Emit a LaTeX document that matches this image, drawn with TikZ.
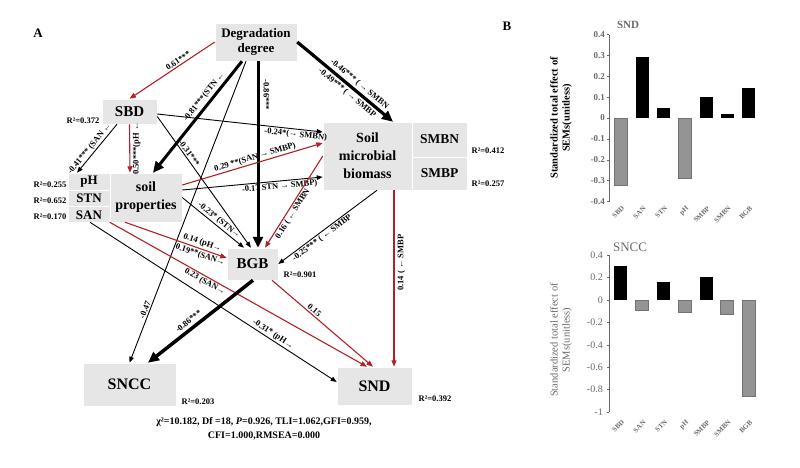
\documentclass[tikz,border=0pt]{standalone}
\usepackage{fontspec}
\setmainfont{Liberation Serif}
\usetikzlibrary{arrows.meta,calc}
\definecolor{sred}{RGB}{178,32,38}
\definecolor{boxgray}{RGB}{230,230,230}
\definecolor{axgray}{RGB}{105,105,105}
\begin{document}
\begin{tikzpicture}[x=1pt,y=-1pt,
  box/.style={fill=boxgray, draw=white, line width=0.5pt, inner sep=0pt, align=center, font=\bfseries\fontsize{13}{15}\selectfont},
  lab/.style={font=\bfseries\fontsize{8.5}{9}\selectfont, inner sep=1.2pt},
  rsq/.style={font=\bfseries\fontsize{8.5}{9}\selectfont, inner sep=0pt},
  arr/.style={draw=black, line width=0.9pt, -{Triangle[length=6pt,width=4.5pt]}},
  redarr/.style={draw=sred, line width=1.1pt, -{Triangle[length=6.5pt,width=5pt]}},
  thickarr/.style={draw=black, line width=3.2pt, -{Triangle[length=11pt,width=10pt]}},
  posbar/.style={fill=black},
  negbar/.style={fill=black!42, draw=black!55, line width=0.3pt},
  tick/.style={anchor=east, text=axgray, inner sep=1pt},
  cat/.style={rotate=45, anchor=east, text=axgray, inner sep=0.5pt, font=\bfseries\fontsize{7}{8}\selectfont},
]
\useasboundingbox (0,0) rectangle (800,467);

% ---------- panel letters
\node[font=\bfseries\fontsize{13}{15}\selectfont] (pa) at (38,33) {A};
\node[font=\bfseries\fontsize{13}{15}\selectfont] (pb) at (507,26) {B};

% ---------- boxes
\node[box, minimum width=82pt, minimum height=38pt] (deg) at (256,42) {Degradation\\degree};
\node[box, minimum width=55pt, minimum height=25pt, font=\bfseries\fontsize{15}{17}\selectfont] (sbd) at (129.5,111.5) {SBD};
\node[box, minimum width=42pt, minimum height=49pt] (phbox) at (89,197.5) {};
\node[font=\bfseries\fontsize{13}{15}\selectfont, inner sep=0pt] (ph) at (89,182) {pH};
\node[font=\bfseries\fontsize{13}{15}\selectfont, inner sep=0pt] (stn) at (89,198.5) {STN};
\node[font=\bfseries\fontsize{13}{15}\selectfont, inner sep=0pt] (san) at (89,215) {SAN};
\draw[white, line width=0.6pt] (68,190) -- (110,190) (68,206.5) -- (110,206.5);
\node[box, minimum width=72pt, minimum height=49pt, font=\bfseries\fontsize{14}{18}\selectfont] (soil) at (146,197.5) {soil\\properties};
\node[box, minimum width=89pt, minimum height=68pt, font=\bfseries\fontsize{14}{18}\selectfont] (smb) at (367.5,156) {Soil\\microbial\\biomass};
\node[box, minimum width=55pt, minimum height=35pt, font=\bfseries\fontsize{13.5}{15}\selectfont] (smbn) at (439.5,139.5) {SMBN};
\node[box, minimum width=55pt, minimum height=33pt, font=\bfseries\fontsize{13.5}{15}\selectfont] (smbp) at (439.5,173.5) {SMBP};
\node[box, minimum width=51pt, minimum height=32pt, font=\bfseries\fontsize{15}{17}\selectfont] (bgb) at (252.5,264) {BGB};
\node[box, minimum width=93pt, minimum height=43pt, font=\bfseries\fontsize{16}{18}\selectfont] (sncc) at (129.5,384.5) {SNCC};
\node[box, minimum width=75pt, minimum height=38pt, font=\bfseries\fontsize{16}{18}\selectfont] (snd) at (374.5,386) {SND};

% ---------- R2 labels
\node[rsq] (r1) at (83,121) {R²=0.372};
\node[rsq] (r2) at (50,185) {R²=0.255};
\node[rsq] (r3) at (50,201) {R²=0.652};
\node[rsq] (r4) at (50,217) {R²=0.170};
\node[rsq] (r5) at (488,151) {R²=0.412};
\node[rsq] (r6) at (488,184) {R²=0.257};
\node[rsq] (r7) at (300,275) {R²=0.901};
\node[rsq] (r8) at (198,402) {R²=0.203};
\node[rsq] (r9) at (435,399) {R²=0.392};

% ---------- connectors
\draw[redarr] (deg.west) -- node[lab, sloped, pos=0.4, above] {0.61***} (sbd.north);
\draw[thickarr] (deg.east) -- node[lab, sloped, pos=0.6, above, inner sep=2pt] {-0.46*** ( → SMBN}
   node[lab, sloped, pos=0.57, below, inner sep=2pt] {-0.49*** ( → SMBP} ($(smb.north)+(25.5,0)$);
\draw[thickarr, line width=3pt] ($(deg.south)+(-14,0)$) -- node[lab, sloped, pos=0.36, above, inner sep=2pt] {-0.81***(STN ←} ($(soil.north)+(7,0)$);
\draw[thickarr, line width=3pt] ($(deg.south)+(2,0)$) -- node[lab, pos=0.18, rotate=-90, anchor=south, inner sep=4pt] {-0.86***} ($(bgb.north)+(5.5,0)$);
\draw[arr] ($(deg.south)+(-10,0)$) -- node[lab, sloped, pos=0.83, above] {-0.47} (sncc.north);
\draw[arr] ($(sbd.south)+(-12.5,0)$) -- node[lab, sloped, pos=0.58, above] {-0.41*** (SAN ←} ($(phbox.north)+(-12,0)$);
\draw[redarr] (sbd.south) -- node[lab, pos=0.5, rotate=90, anchor=north, inner sep=2.5pt, text=black] {0.50***(pH ←} ($(soil.north)+(-16,0)$);
\draw[arr] ($(sbd.east)+(0,2.5)$) -- node[lab, sloped, pos=0.84, below] {-0.24*(→ SMBN)} ($(smb.west)+(0,-24)$);
\draw[arr] ($(sbd.east)+(0,5)$) -- node[lab, sloped, pos=0.3, above] {-0.31***} ($(bgb.north)+(-1.5,0)$);
\draw[redarr] ($(soil.east)+(0,-12.5)$) -- node[lab, sloped, pos=0.53, above, text=black] {0.29 **(SAN → SMBP)} ($(smb.west)+(0,-13)$);
\draw[arr] ($(soil.east)+(0,-7.5)$) -- node[lab, sloped, pos=0.69, below] {-0.17 STN → SMBP)} ($(smb.west)+(0,21)$);
\draw[arr] (soil.east) -- node[lab, sloped, pos=0.54, above] {-0.23* (STN→} ($(bgb.north)+(-8.5,0)$);
\draw[redarr] ($(soil.south)+(-21,0)$) -- node[lab, sloped, pos=0.74, above, inner sep=1.8pt, text=black] {0.14 (pH→}
   node[lab, sloped, pos=0.76, below, inner sep=1.8pt, text=black] {0.19**(SAN→} ($(bgb.west)+(0,-6)$);
\draw[redarr] (soil.south west) -- node[lab, sloped, pos=0.38, below, text=black] {0.23 (SAN→} ($(snd.north)+(-7.5,0)$);
\draw[arr] ($(phbox.south)+(1,0)$) -- node[lab, sloped, pos=0.73, above] {-0.31* (pH→} ($(snd.west)+(0,-4)$);
\draw[redarr] (smb.west) -- node[lab, sloped, pos=0.6, below, text=black] {0.16 ( ← SMBN} ($(bgb.north)+(12.5,0)$);
\draw[arr] ($(smb.south)+(9.5,0)$) -- node[lab, sloped, pos=0.59, below] {-0.25*** ( ← SMBP} (bgb.east);
\draw[redarr] ($(smb.south)+(26.5,0)$) -- node[lab, pos=0.41, rotate=90, anchor=north, inner sep=3pt, text=black] {0.14 ( ← SMBP} ($(snd.north)+(19.5,0)$);
\draw[thickarr, line width=3.5pt] ($(bgb.south)+(0.5,0)$) -- node[lab, sloped, pos=0.57, above, inner sep=3pt] {-0.86***} ($(sncc.north)+(18.5,0)$);
\draw[redarr] ($(bgb.south)+(19.5,0)$) -- node[lab, sloped, pos=0.39, above, text=black] {0.15} ($(snd.north)+(-1.5,0)$);

% ---------- fit statistics
\node[font=\bfseries\fontsize{10}{14}\selectfont, align=center, inner sep=0pt] (fit) at (264,429)
  {χ²=10.182, Df =18, \textit{P}=0.926, TLI=1.062,GFI=0.959,\\CFI=1.000,RMSEA=0.000};

% ---------- panel B, SND chart
\node[font=\bfseries\fontsize{11}{13}\selectfont, text=axgray] (t1) at (628,25) {SND};
\node[font=\bfseries\fontsize{10.5}{12}\selectfont, rotate=90, align=center] (y1) at (561,118) {Standardized total effect of\\SEMs(unitless)};
\draw[axgray, line width=0.6pt] (609,35) -- (609,202);
\foreach \v in {0.4,0.3,0.2,0.1,0,-0.1,-0.2,-0.3,-0.4}{
  \draw[axgray, line width=0.5pt] (607,{118-\v*209}) -- (609,{118-\v*209});
  \node[tick, font=\bfseries\fontsize{9}{10}\selectfont] at (606,{118-\v*209}) {\v};
}
\fill[negbar] (614,118) rectangle (627,184.9);
\fill[posbar] (635.5,118) rectangle (648.5,57.4);
\fill[posbar] (657,118) rectangle (670,107.5);
\fill[negbar] (678.5,118) rectangle (691.5,178.6);
\fill[posbar] (699.5,118) rectangle (712.5,97.1);
\fill[posbar] (720.5,118) rectangle (733.5,113.8);
\fill[posbar] (742,118) rectangle (755,87.7);
\foreach \c/\n in {620.5/SBD,642/SAN,663.5/STN,685/pH,706/SMBP,727/SMBN,748.5/BGB}{
  \node[cat] at (\c+3,207) {\n};
}

% ---------- panel B, SNCC chart
\node[font=\fontsize{13}{15}\selectfont, text=axgray] (t2) at (630,247) {SNCC};
\node[font=\fontsize{10.5}{12}\selectfont, rotate=90, align=center, text=axgray] (y2) at (561,340) {Standardized total effect of\\SEMs(unitless)};
\draw[axgray, line width=0.6pt] (609,255) -- (609,412);
\foreach \v in {0.4,0.2,0,-0.2,-0.4,-0.6,-0.8,-1}{
  \draw[axgray, line width=0.5pt] (607,{300-\v*112}) -- (609,{300-\v*112});
  \node[tick, font=\fontsize{10}{11}\selectfont] at (604,{300-\v*112}) {\v};
}
\fill[posbar] (614,300) rectangle (627,266.4);
\fill[negbar] (635.5,300) rectangle (648.5,310);
\fill[posbar] (657,300) rectangle (670,282);
\fill[negbar] (678.5,300) rectangle (691.5,312.3);
\fill[posbar] (699.5,300) rectangle (712.5,276.5);
\fill[negbar] (720.5,300) rectangle (733.5,314.6);
\fill[negbar] (742,300) rectangle (755,396.3);
\foreach \c/\n in {620.5/SBD,642/SAN,663.5/STN,685/pH,706/SMBP,727/SMBN,748.5/BGB}{
  \node[cat] at (\c+3,421) {\n};
}
\end{tikzpicture}
\end{document}
